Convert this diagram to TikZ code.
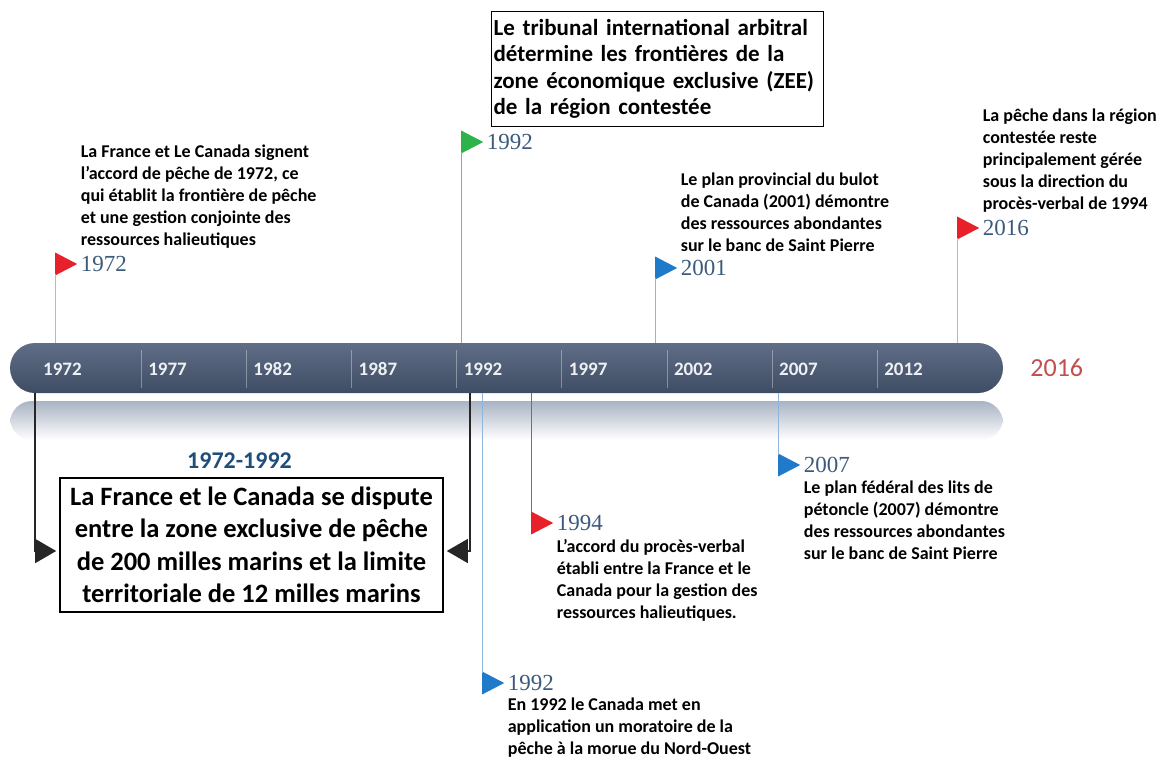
\documentclass[tikz,border=0pt]{standalone}
\usepackage{fontspec}
\setmainfont{Carlito}
\newfontfamily\yearfont{Liberation Serif}
\usetikzlibrary{shapes.geometric, positioning, arrows.meta}

\definecolor{bartop}{HTML}{5F6E86}
\definecolor{barbottom}{HTML}{3E4D64}
\definecolor{reflect}{HTML}{A9B3C3}
\definecolor{flagred}{HTML}{E8202A}
\definecolor{flaggreen}{HTML}{2DB34A}
\definecolor{flagblue}{HTML}{1F7BC9}
\definecolor{stempink}{HTML}{F2A0A6}
\definecolor{stemgreen}{HTML}{6CC27E}
\definecolor{stemblue}{HTML}{8DB5DD}
\definecolor{stemred}{HTML}{E04048}
\definecolor{yearblue}{HTML}{3C5B7C}
\definecolor{spanblue}{HTML}{1F4E79}
\definecolor{endred}{HTML}{C0504D}

\begin{document}
\begin{tikzpicture}[
            x=1pt, y=-1pt,
            bar/.style={
                    rectangle,
                    rounded corners=25pt,
                    top color=bartop,
                    bottom color=barbottom,
                    minimum width=993pt,
                    minimum height=50pt,
                    inner sep=0pt
                },
            sep/.style={
                    draw=white,
                    opacity=0.35,
                    line width=0.6pt
                },
            tick/.style={
                    anchor=west,
                    inner sep=0pt,
                    text=white!90!bartop,
                    font=\fontsize{19}{21}\selectfont\bfseries
                },
            flag/.style={
                    isosceles triangle,
                    isosceles triangle apex angle=55,
                    minimum size=22pt,
                    inner sep=0pt,
                    anchor=west
                },
            year/.style={
                    inner sep=0pt,
                    text=yearblue,
                    font=\yearfont\fontsize{23}{25}\selectfont
                },
            desc/.style={
                    align=left,
                    inner sep=0pt,
                    font=\fontsize{18}{22}\selectfont\bfseries
                },
            stem/.style={
                    line width=0.8pt
                },
            spanbox/.style={
                    rectangle,
                    draw=black,
                    line width=1.6pt,
                    align=center,
                    minimum width=383pt,
                    minimum height=134pt,
                    inner sep=0pt,
                    font=\fontsize{26.5}{32.5}\selectfont\bfseries
                },
            zeebox/.style={
                    rectangle,
                    draw=black,
                    line width=1.2pt,
                    align=left,
                    text width=328pt,
                    minimum height=115pt,
                    inner xsep=2pt,
                    inner ysep=0pt,
                    font=\fontsize{23}{26.5}\selectfont\bfseries
                },
            bracket/.style={
                    draw=black!85,
                    line width=1.3pt,
                    -{Triangle[length=21pt,width=24pt]},
                    shorten >=3pt
                }
        ]

        % Page
        \path[fill=white] (0,0) rectangle (1166,760);
        \useasboundingbox (0,0) rectangle (1166,760);

        % Time bar
        \shade[top color=reflect, bottom color=white, rounded corners=22pt] (10,401) rectangle (1003,440);
        \node [bar] (bar) at (506.5,368) {};
        \foreach \i in {1,...,8}
            \draw[sep] (36+105.14*\i,350) -- (36+105.14*\i,388);
        \foreach \yr [count=\i from 0] in {1972,1977,1982,1987,1992,1997,2002,2007,2012}
            \node [tick] at (43+105.14*\i,369) {\yr};
        \node [right=27pt of bar, inner sep=0pt, text=endred, font=\fontsize{26}{28}\selectfont] (end) {2016};

        % Events above the bar
        \node [flag, fill=flagred] (f72) at (55,264) {};
        \node [year, right=3pt of f72] (y72) {1972};
        \node [desc, above right=8pt and 0pt of y72.north west] (d72) {La France et Le Canada signent\\l'accord de pêche de 1972,  ce\\qui établit la frontière de pêche\\et une gestion conjointe des\\ressources halieutiques};

        \node [flag, fill=flaggreen] (f92) at (461,142) {};
        \node [year, right=3pt of f92] (y92) {1992};
        \node [zeebox, anchor=north west] (zee) at (491,11) {Le tribunal international arbitral\\détermine les frontières de la\\zone économique exclusive (ZEE)\\de la région contestée};

        \node [flag, fill=flagblue] (f01) at (655,268) {};
        \node [year, right=3pt of f01] (y01) {2001};
        \node [desc, above right=8pt and 0pt of y01.north west] (d01) {Le plan provincial du bulot\\de Canada (2001)  démontre\\des ressources  abondantes\\sur le banc de Saint Pierre};

        \node [flag, fill=flagred] (f16) at (957,228) {};
        \node [year, right=3pt of f16] (y16) {2016};
        \node [desc, above right=8pt and 0pt of y16.north west] (d16) {La pêche dans la région\\contestée reste\\principalement gérée\\sous la direction du\\procès-verbal de 1994};

        % Stems above
        \draw[stem, draw=stempink] ([yshift=-10pt]f72.west) -- (f72.west |- bar.north);
        \draw[stem, draw=stemgreen] ([yshift=-10pt]f92.west) -- (f92.west |- bar.north);
        \draw[stem, draw=stemblue] ([yshift=-10pt]f01.west) -- (f01.west |- bar.north);
        \draw[stem, draw=stempink] ([yshift=-10pt]f16.west) -- (f16.west |- bar.north);

        % Events below the bar
        \node [spanbox] (span) at (251.5,545) {La France et le Canada  se dispute\\entre la zone exclusive de pêche\\de 200 milles marins et la limite\\territoriale de 12 milles marins};
        \node [above=9pt of span, xshift=-12pt, inner sep=0pt, text=spanblue, font=\fontsize{24}{26}\selectfont\bfseries] (range) {1972-1992};

        \node [flag, fill=flagred] (f94) at (531,523) {};
        \node [year, right=3pt of f94] (y94) {1994};
        \node [desc, below right=8pt and 0pt of y94.south west] (d94) {L’accord du procès-verbal\\établi entre la France et le\\Canada pour la gestion des\\ressources halieutiques.};

        \node [flag, fill=flagblue] (f07) at (778,465) {};
        \node [year, right=3pt of f07] (y07) {2007};
        \node [desc, below right=8pt and 0pt of y07.south west] (d07) {Le plan fédéral des lits de\\pétoncle (2007) démontre\\des ressources abondantes\\sur le banc de Saint Pierre};

        \node [flag, fill=flagblue] (f92b) at (482,683) {};
        \node [year, right=3pt of f92b] (y92b) {1992};
        \node [desc, below right=7pt and 0pt of y92b.south west] (d92b) {En  1992 le Canada met en\\application un moratoire de la\\pêche à la morue du Nord-Ouest};

        % Stems below
        \draw[stem, draw=stemred] (f94.west |- bar.south) -- ([yshift=10pt]f94.west);
        \draw[stem, draw=stemblue] (f07.west |- bar.south) -- ([yshift=10pt]f07.west);
        \draw[stem, draw=stemblue] (f92b.west |- bar.south) -- ([yshift=10pt]f92b.west);

        % Span arrows
        \coordinate (lt) at (35,393);
        \coordinate (rt) at (470,393);
        \draw[bracket] (lt) |- ([yshift=-6pt]span.west);
        \draw[bracket] (rt) |- ([yshift=-6pt]span.east);
    \end{tikzpicture}
\end{document}
